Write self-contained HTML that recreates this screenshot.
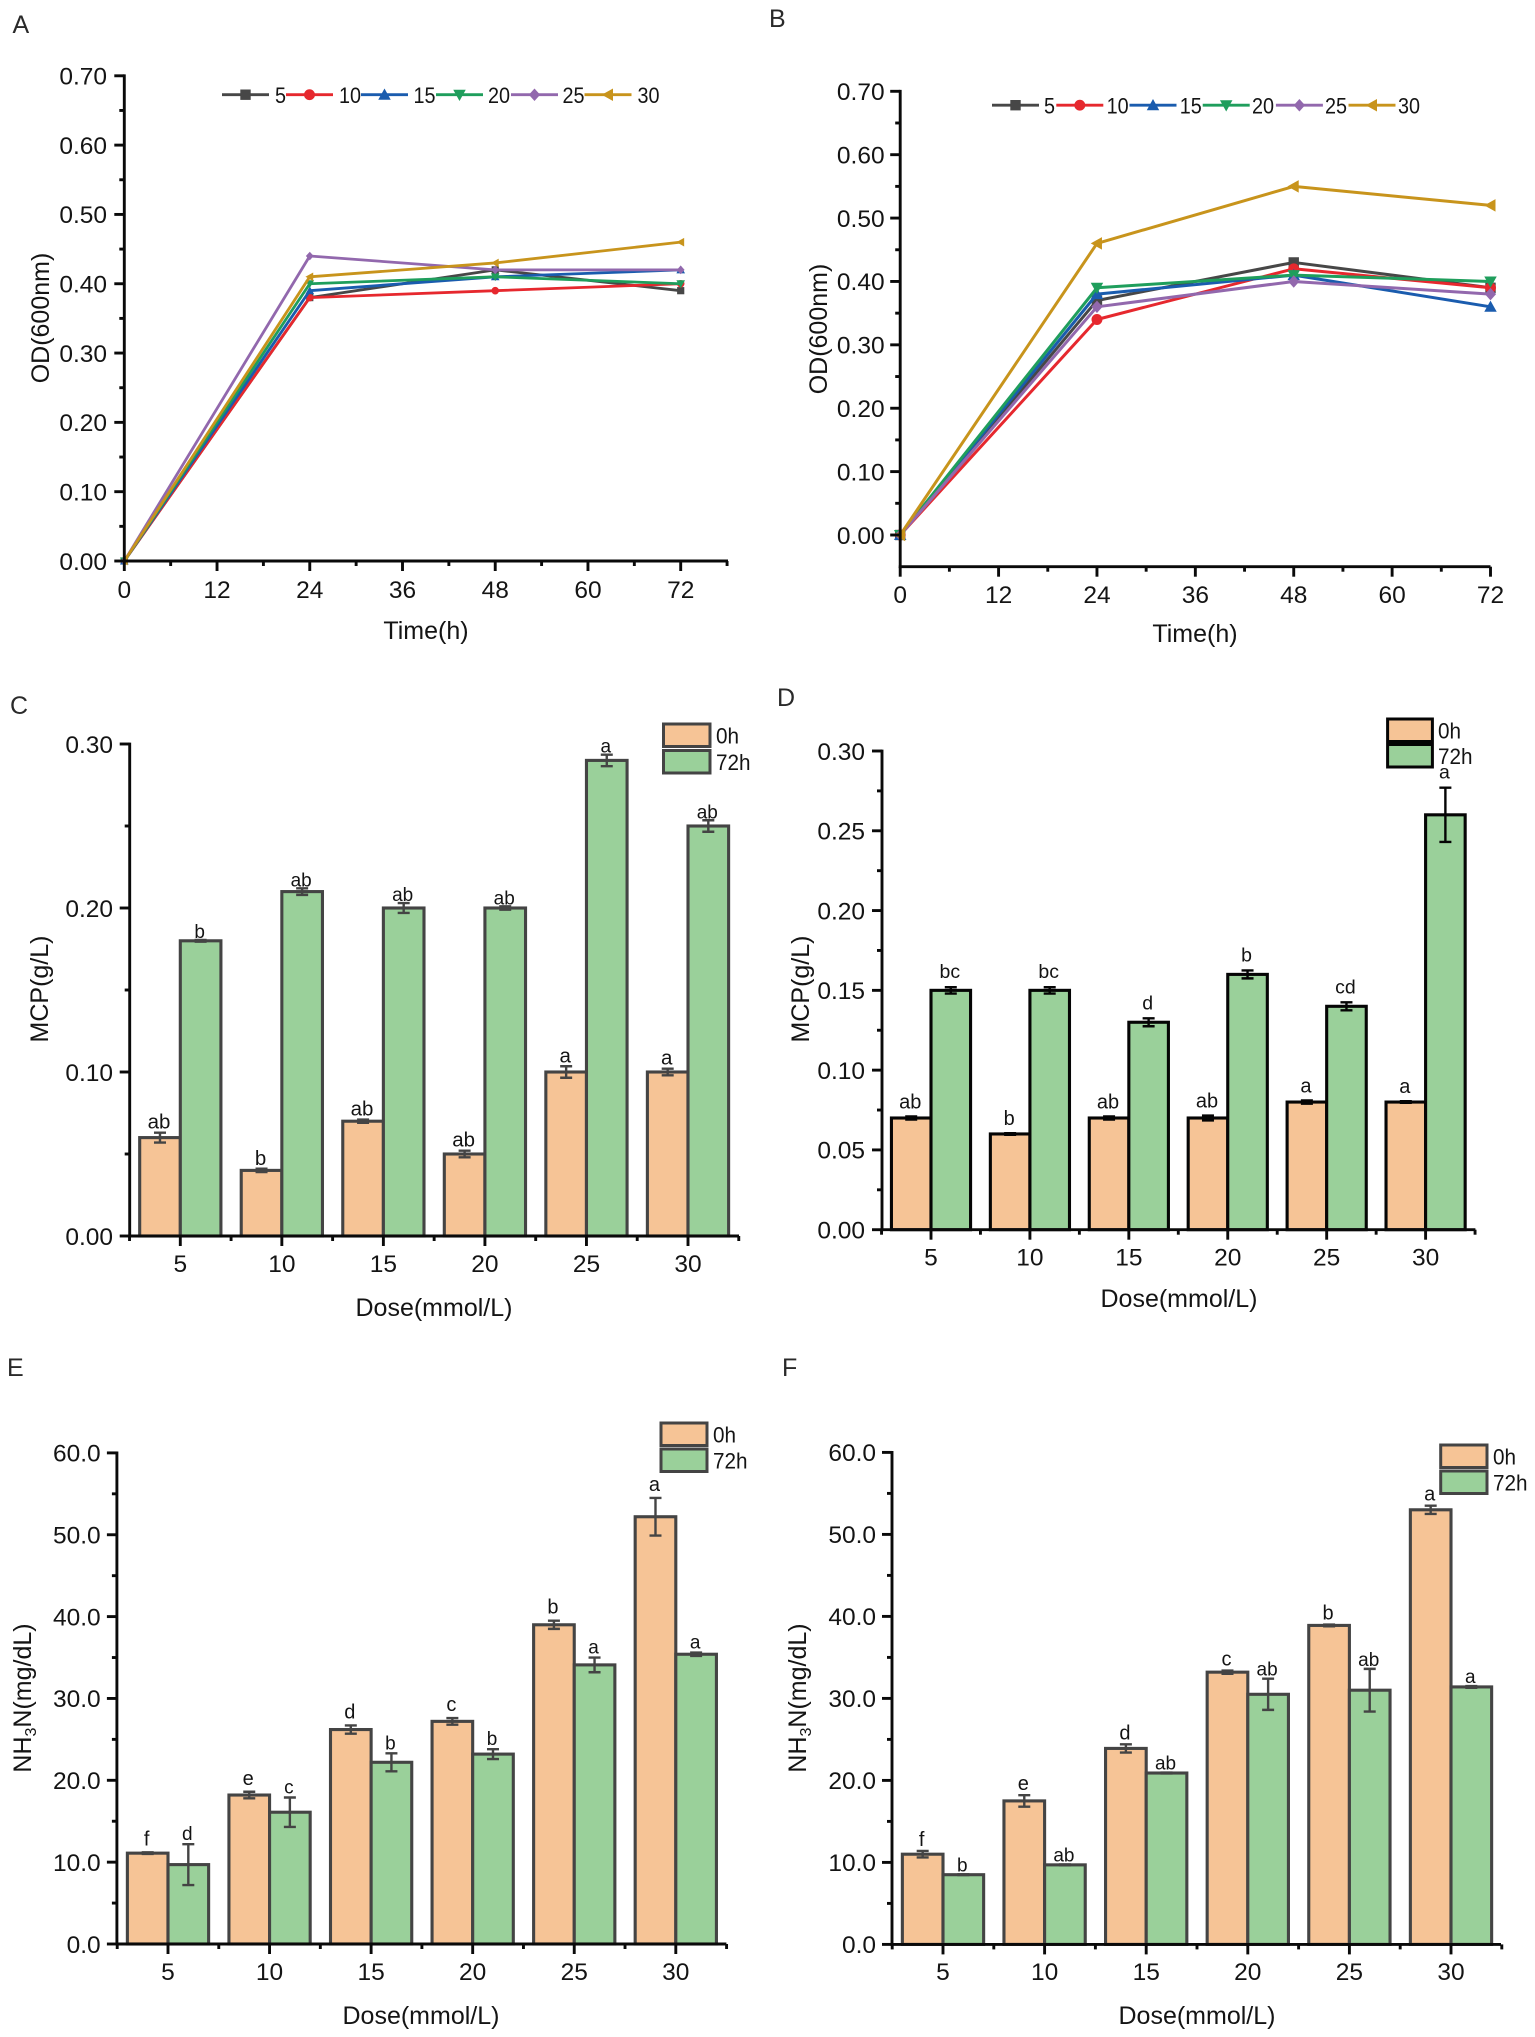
<!DOCTYPE html>
<html lang="en">
<head>
<meta charset="utf-8">
<title>OD, MCP and NH3N charts</title>
<style>
html,body{margin:0;padding:0;background:#fff;}
svg{display:block;font-family:"Liberation Sans",sans-serif;filter:blur(0.35px);}
</style>
</head>
<body>
<svg id="figure" xmlns="http://www.w3.org/2000/svg" width="1535" height="2037" viewBox="0 0 1535 2037"></svg>
<script>
// ---------- shared categories and ticks ----------
const timePoints = [0, 24, 48, 72];
const timeTickValues = [0, 12, 24, 36, 48, 60, 72];
const doseCategories = ['5', '10', '15', '20', '25', '30'];
const seriesNames = ['5', '10', '15', '20', '25', '30'];
const odTickValues = [0, 0.1, 0.2, 0.3, 0.4, 0.5, 0.6, 0.7];
const mcpCTickValues = [0, 0.1, 0.2, 0.3];
const mcpDTickValues = [0, 0.05, 0.1, 0.15, 0.2, 0.25, 0.3];
const nh3TickValues = [0, 10, 20, 30, 40, 50, 60];

// ---------- panel A series ----------
const panelAOd5 = [0, 0.38, 0.42, 0.39];
const panelAOd10 = [0, 0.38, 0.39, 0.40];
const panelAOd15 = [0, 0.39, 0.41, 0.42];
const panelAOd20 = [0, 0.40, 0.41, 0.40];
const panelAOd25 = [0, 0.44, 0.42, 0.42];
const panelAOd30 = [0, 0.41, 0.43, 0.46];

// ---------- panel B series ----------
const panelBOd5 = [0, 0.37, 0.43, 0.39];
const panelBOd10 = [0, 0.34, 0.42, 0.39];
const panelBOd15 = [0, 0.38, 0.41, 0.36];
const panelBOd20 = [0, 0.39, 0.41, 0.40];
const panelBOd25 = [0, 0.36, 0.40, 0.38];
const panelBOd30 = [0, 0.46, 0.55, 0.52];

// ---------- panel C ----------
const panelC0h = [0.06, 0.04, 0.07, 0.05, 0.10, 0.10];
const panelC72h = [0.18, 0.21, 0.20, 0.20, 0.29, 0.25];
const panelC0hErr = [0.003, 0.001, 0.001, 0.002, 0.0035, 0.002];
const panelC72hErr = [0.0005, 0.002, 0.003, 0.001, 0.0035, 0.0035];
const panelC0hSig = ['ab', 'b', 'ab', 'ab', 'a', 'a'];
const panelC72hSig = ['b', 'ab', 'ab', 'ab', 'a', 'ab'];

// ---------- panel D ----------
const panelD0h = [0.07, 0.06, 0.07, 0.07, 0.08, 0.08];
const panelD72h = [0.15, 0.15, 0.13, 0.16, 0.14, 0.26];
const panelD0hErr = [0.001, 0.0005, 0.001, 0.0015, 0.001, 0.0005];
const panelD72hErr = [0.002, 0.002, 0.0025, 0.0025, 0.0025, 0.017];
const panelD0hSig = ['ab', 'b', 'ab', 'ab', 'a', 'a'];
const panelD72hSig = ['bc', 'bc', 'd', 'b', 'cd', 'a'];

// ---------- panel E ----------
const panelE0h = [11.1, 18.2, 26.2, 27.2, 39.0, 52.2];
const panelE72h = [9.7, 16.1, 22.2, 23.2, 34.1, 35.4];
const panelE0hErr = [0.1, 0.4, 0.5, 0.4, 0.5, 2.3];
const panelE72hErr = [2.5, 1.8, 1.1, 0.6, 0.9, 0.2];
const panelE0hSig = ['f', 'e', 'd', 'c', 'b', 'a'];
const panelE72hSig = ['d', 'c', 'b', 'b', 'a', 'a'];

// ---------- panel F ----------
const panelF0h = [11.0, 17.5, 23.9, 33.2, 38.9, 53.0];
const panelF72h = [8.5, 9.7, 20.9, 30.5, 31.0, 31.4];
const panelF0hErr = [0.4, 0.7, 0.5, 0.2, 0.1, 0.5];
const panelF72hErr = [0.05, 0.05, 0.05, 1.9, 2.6, 0.1];
const panelF0hSig = ['f', 'e', 'd', 'c', 'b', 'a'];
const panelF72hSig = ['b', 'ab', 'ab', 'ab', 'ab', 'a'];

const seriesColors = ['#474747', '#e6282e', '#1a5cae', '#1f9e5c', '#9268ad', '#c8941c'];
const seriesShapes = ['square', 'circle', 'up', 'down', 'diamond', 'left'];
const ORANGE = '#f6c496';
const GREEN = '#9ad09a';
const FONT_TICK = 24.5;
const FONT_TITLE = 25;

const svg = document.getElementById('figure');
const NS = 'http://www.w3.org/2000/svg';

function mk(tag, parent, attrs) {
  const el = document.createElementNS(NS, tag);
  for (const k in attrs) el.setAttribute(k, attrs[k]);
  parent.appendChild(el);
  return el;
}

function label(parent, x, cy, str, size, anchor, fill, rotate) {
  const baseline = rotate ? 0 : cy + size * 0.358;
  const attrs = {x: x, y: baseline, 'font-size': size, 'text-anchor': anchor, fill: fill};
  if (rotate) {
    attrs.x = 0;
    attrs.y = size * 0.358;
    attrs.transform = 'translate(' + x + ' ' + cy + ') rotate(-90)';
  }
  const el = mk('text', parent, attrs);
  el.textContent = str;
  return el;
}

function narrowLabel(parent, x, cy, str, size, squeeze, fill) {
  const el = mk('text', parent, {x: 0, y: size * 0.358, 'font-size': size, fill: fill, transform: 'translate(' + x + ' ' + cy + ') scale(' + squeeze + ' 1)'});
  el.textContent = str;
  return el;
}

function tickLine(parent, x1, y1, x2, y2) {
  return mk('line', parent, {x1: x1, y1: y1, x2: x2, y2: y2, stroke: '#0a0a0a', 'stroke-width': 2.9});
}

function drawMarker(parent, shape, cx, cy, r, color) {
  let el;
  if (shape === 'square') {
    el = mk('rect', parent, {x: cx - r, y: cy - r, width: 2 * r, height: 2 * r, fill: color});
  } else if (shape === 'circle') {
    el = mk('circle', parent, {cx: cx, cy: cy, r: r * 1.05, fill: color});
  } else {
    let pts;
    const k = r * 1.2;
    if (shape === 'up') pts = [[cx, cy - k], [cx + k, cy + k * 0.8], [cx - k, cy + k * 0.8]];
    if (shape === 'down') pts = [[cx, cy + k], [cx + k, cy - k * 0.8], [cx - k, cy - k * 0.8]];
    if (shape === 'diamond') pts = [[cx, cy - k], [cx + k * 0.9, cy], [cx, cy + k], [cx - k * 0.9, cy]];
    if (shape === 'left') pts = [[cx - k, cy], [cx + k * 0.8, cy - k], [cx + k * 0.8, cy + k]];
    el = mk('polygon', parent, {points: pts.map(p => p.join(',')).join(' '), fill: color});
  }
  return el;
}

function drawYAxis(g, p, scaleY, tickValues, minorStep, decimals, yMinValue) {
  const axis = tickLine(g, p.axisX, scaleY(yMinValue) + 1.4, p.axisX, scaleY(tickValues[tickValues.length - 1]) - 1.4);
  
  
  tickValues.forEach((v) => {
    const t = tickLine(g, p.axisX - 10, scaleY(v), p.axisX, scaleY(v));
    
    
    const lb = label(g, p.yLabelRight, scaleY(v), v.toFixed(decimals), FONT_TICK, 'end', '#141414');
    
    
    const mv = v + minorStep;
    if (mv < tickValues[tickValues.length - 1]) {
      const m = tickLine(g, p.axisX - 5, scaleY(mv), p.axisX, scaleY(mv));
      
      
    }
  });
}

function drawTitles(g, p) {
  const xt = label(g, p.xTitle[0], p.xTitle[1], p.xTitleText, FONT_TITLE, 'middle', '#141414');
  
  
  let yt;
  if (p.yTitleSub) {
    yt = label(g, p.yTitle[0], p.yTitle[1], '', FONT_TITLE, 'middle', '#141414', true);
    const a = mk('tspan', yt, {});
    a.textContent = 'NH';
    const b = mk('tspan', yt, {dy: 5, 'font-size': 16});
    b.textContent = '3';
    const c = mk('tspan', yt, {dy: -5});
    c.textContent = 'N(mg/dL)';
  } else {
    yt = label(g, p.yTitle[0], p.yTitle[1], p.yTitleText, FONT_TITLE, 'middle', '#141414', true);
  }
  
  
  const pl = label(g, p.letter[0], p.letter[1], p.letter[2], 25, 'start', '#2a2a2a');
  
  
}

function drawLinePanel(p) {
  const g = mk('g', svg, {});
  
  
  const scaleX = (t) => p.axisX + (t / 72) * (p.x72 - p.axisX);
  const scaleY = (v) => p.y0 + (v / 0.7) * (p.yTop - p.y0);
  const yMinValue = p.yMinValue;

  p.series.forEach((vals, i) => {
    const pts = vals.map((v, j) => scaleX(timePoints[j]) + ',' + scaleY(v)).join(' ');
    const line = mk('polyline', g, {points: pts, fill: 'none', stroke: seriesColors[i], 'stroke-width': p.lineW, 'stroke-linejoin': 'round'});
    
    
    vals.forEach((v, j) => {
      const m = drawMarker(g, seriesShapes[i], scaleX(timePoints[j]), scaleY(v), p.markerR, seriesColors[i]);
      
      
    });
  });

  // x axis
  const xa = tickLine(g, p.axisX - 1.4, scaleY(yMinValue), p.xEnd, scaleY(yMinValue));
  
  
  const base = scaleY(yMinValue);
  timeTickValues.forEach((t) => {
    const tk = tickLine(g, scaleX(t), base, scaleX(t), base + 10);
    
    
    const lb = label(g, scaleX(t), base + p.xLabelGap, String(t), FONT_TICK, 'middle', '#141414');
    
    
    if (scaleX(t + 6) <= p.xEnd + 1) {
      const mn = tickLine(g, scaleX(t + 6), base, scaleX(t + 6), base + 5);
      
      
    }
  });
  drawYAxis(g, p, scaleY, odTickValues, 0.05, 2, yMinValue);
  drawTitles(g, p);

  // legend
  const lg = mk('g', g, {});
  
  
  seriesNames.forEach((nm, i) => {
    const x = p.legendLineX[i];
    const ll = mk('line', lg, {x1: x, y1: p.legendY, x2: x + 47, y2: p.legendY, stroke: seriesColors[i], 'stroke-width': 2.9});
    
    
    const lm = drawMarker(lg, seriesShapes[i], x + 23.5, p.legendY, 5.2, seriesColors[i]);
    
    
    const lt = narrowLabel(lg, p.legendTextX[i], p.legendY, nm, 22.5, 0.88, '#141414');
    
    
  });
}

function drawBarPanel(p) {
  const g = mk('g', svg, {});
  
  
  const step = (p.cat30 - p.cat5) / 5;
  const scaleX = (i) => p.cat5 + i * step;
  const scaleY = (v) => p.y0 + (v / p.yMax) * (p.yTop - p.y0);
  const barW = step * 0.4;
  const base = scaleY(0);

  [[p.v0, p.e0, p.s0, ORANGE, -1, '0h', p.gap0], [p.v72, p.e72, p.s72, GREEN, 0, '72h', p.gap72]].forEach((set) => {
    set[0].forEach((v, i) => {
      const left = scaleX(i) + set[4] * barW;
      const bar = mk('rect', g, {x: left, y: scaleY(v), width: barW, height: base - scaleY(v), fill: set[3], stroke: p.edge, 'stroke-width': 3.1});
      
      
    });
  });
  [[p.v0, p.e0, p.s0, -0.5, '0h', p.gap0, p.sig0Size], [p.v72, p.e72, p.s72, 0.5, '72h', p.gap72, p.sig72Size]].forEach((set) => {
    set[0].forEach((v, i) => {
      const cx = scaleX(i) + set[3] * barW;
      const hi = scaleY(v + set[1][i]);
      const lo = scaleY(v - set[1][i]);
      const eb = mk('path', g, {d: 'M' + (cx - 6) + ' ' + hi + 'H' + (cx + 6) + 'M' + cx + ' ' + hi + 'V' + lo + 'M' + (cx - 6) + ' ' + lo + 'H' + (cx + 6), fill: 'none', stroke: p.edge, 'stroke-width': 2.4});
      
      
      const sig = mk('text', g, {x: cx - 1, y: hi - set[5], 'font-size': set[6], 'text-anchor': 'middle', fill: '#141414'});
      sig.textContent = set[2][i];
      
      
    });
  });

  const xa = tickLine(g, p.axisX - 1.4, base, p.xEnd, base);
  
  
  doseCategories.forEach((c, i) => {
    const tk = tickLine(g, scaleX(i), base, scaleX(i), base + 10);
    
    
    const lb = label(g, scaleX(i), base + 27, c, FONT_TICK, 'middle', '#141414');
    
    
  });
  for (let i = 0; i <= 6; i++) {
    const mx = scaleX(i - 0.5);
    const mn = tickLine(g, mx, base, mx, base + 5);
    
    
  }
  drawYAxis(g, p, scaleY, p.ticks, p.minor, p.decimals, 0);
  drawTitles(g, p);

  const lg = mk('g', g, {});
  
  
  const box1 = mk('rect', lg, {x: p.legX, y: p.leg0Y, width: p.legW, height: p.legH, fill: ORANGE, stroke: p.edge, 'stroke-width': 3});
  
  
  const box2 = mk('rect', lg, {x: p.legX, y: p.leg72Y, width: p.legW, height: p.legH, fill: GREEN, stroke: p.edge, 'stroke-width': 3});
  
  
  const t1 = narrowLabel(lg, p.legTextX, p.leg0Y + p.legH / 2, '0h', 22.5, 0.92, '#141414');
  
  
  const t2 = narrowLabel(lg, p.legTextX, p.leg72Y + p.legH / 2, '72h', 22.5, 0.92, '#141414');
  
  
}

drawLinePanel({
  name: 'panel-a-od-chart', series: [panelAOd5, panelAOd10, panelAOd15, panelAOd20, panelAOd25, panelAOd30],
  axisX: 124.3, x72: 680.7, xEnd: 728, y0: 561, yTop: 75.8, yMinValue: 0, xLabelGap: 28,
  lineW: 2.8, markerR: 3.6, yLabelRight: 107,
  xTitle: [426, 630], xTitleText: 'Time(h)', yTitle: [40, 318], yTitleText: 'OD(600nm)', letter: [12.5, 24, 'A'],
  legendY: 94.7, legendLineX: [222, 286, 361, 436, 511, 584.5], legendTextX: [275, 339, 413.5, 488, 562.5, 637.5]
});
drawLinePanel({
  name: 'panel-b-od-chart', series: [panelBOd5, panelBOd10, panelBOd15, panelBOd20, panelBOd25, panelBOd30],
  axisX: 900.2, x72: 1490.5, xEnd: 1490.5, y0: 535, yTop: 91.3, yMinValue: -0.05, xLabelGap: 27.5,
  lineW: 3, markerR: 5.2, yLabelRight: 884.6,
  xTitle: [1195, 633], xTitleText: 'Time(h)', yTitle: [818, 329], yTitleText: 'OD(600nm)', letter: [769, 18, 'B'],
  legendY: 105.2, legendLineX: [992, 1056.3, 1129.5, 1202.7, 1275.9, 1348.5], legendTextX: [1044, 1106.6, 1179.8, 1252, 1325, 1398]
});
drawBarPanel({
  name: 'panel-c-mcp-chart', v0: panelC0h, v72: panelC72h, e0: panelC0hErr, e72: panelC72hErr, s0: panelC0hSig, s72: panelC72hSig,
  axisX: 129.7, cat5: 180.3, cat30: 688, xEnd: 739, y0: 1236, yTop: 744, yMax: 0.3, ticks: mcpCTickValues, minor: 0.05, decimals: 2,
  edge: '#444', yLabelRight: 113, gap0: 4, gap72: 2, sig0Size: 20.5, sig72Size: 19,
  xTitle: [434, 1307], xTitleText: 'Dose(mmol/L)', yTitle: [39, 989], yTitleText: 'MCP(g/L)', letter: [10, 705, 'C'],
  legX: 663.5, leg0Y: 724, leg72Y: 750.5, legW: 46.5, legH: 22.5, legTextX: 716
});
drawBarPanel({
  name: 'panel-d-mcp-chart', v0: panelD0h, v72: panelD72h, e0: panelD0hErr, e72: panelD72hErr, s0: panelD0hSig, s72: panelD72hSig,
  axisX: 882, cat5: 931, cat30: 1425.6, xEnd: 1475.4, y0: 1229.7, yTop: 751, yMax: 0.3, ticks: mcpDTickValues, minor: 0.025, decimals: 2,
  edge: '#050505', yLabelRight: 865, gap0: 8, gap72: 9, sig0Size: 20, sig72Size: 19.5,
  xTitle: [1179, 1298], xTitleText: 'Dose(mmol/L)', yTitle: [800, 989], yTitleText: 'MCP(g/L)', letter: [777, 697, 'D'],
  legX: 1387.6, leg0Y: 719, leg72Y: 744.5, legW: 44.8, legH: 22.5, legTextX: 1438
});
drawBarPanel({
  name: 'panel-e-nh3n-chart', v0: panelE0h, v72: panelE72h, e0: panelE0hErr, e72: panelE72hErr, s0: panelE0hSig, s72: panelE72hSig,
  axisX: 116.9, cat5: 168, cat30: 675.8, xEnd: 726.4, y0: 1944, yTop: 1452.9, yMax: 60, ticks: nh3TickValues, minor: 5, decimals: 1,
  edge: '#444', yLabelRight: 100.7, gap0: 7, gap72: 4, sig0Size: 20, sig72Size: 19,
  xTitle: [421, 2015], xTitleText: 'Dose(mmol/L)', yTitle: [22, 1698], yTitleSub: true, letter: [7, 1367, 'E'],
  legX: 661, leg0Y: 1423, leg72Y: 1449, legW: 46, legH: 22.5, legTextX: 713
});
drawBarPanel({
  name: 'panel-f-nh3n-chart', v0: panelF0h, v72: panelF72h, e0: panelF0hErr, e72: panelF72hErr, s0: panelF0hSig, s72: panelF72hSig,
  axisX: 892, cat5: 943, cat30: 1451, xEnd: 1501, y0: 1944.4, yTop: 1452.4, yMax: 60, ticks: nh3TickValues, minor: 5, decimals: 1,
  edge: '#444', yLabelRight: 876, gap0: 5, gap72: 3, sig0Size: 20, sig72Size: 19,
  xTitle: [1197, 2015], xTitleText: 'Dose(mmol/L)', yTitle: [797, 1698], yTitleSub: true, letter: [782, 1367, 'F'],
  legX: 1440.7, leg0Y: 1445, leg72Y: 1471, legW: 46.3, legH: 22.5, legTextX: 1493
});
</script>
</body>
</html>
